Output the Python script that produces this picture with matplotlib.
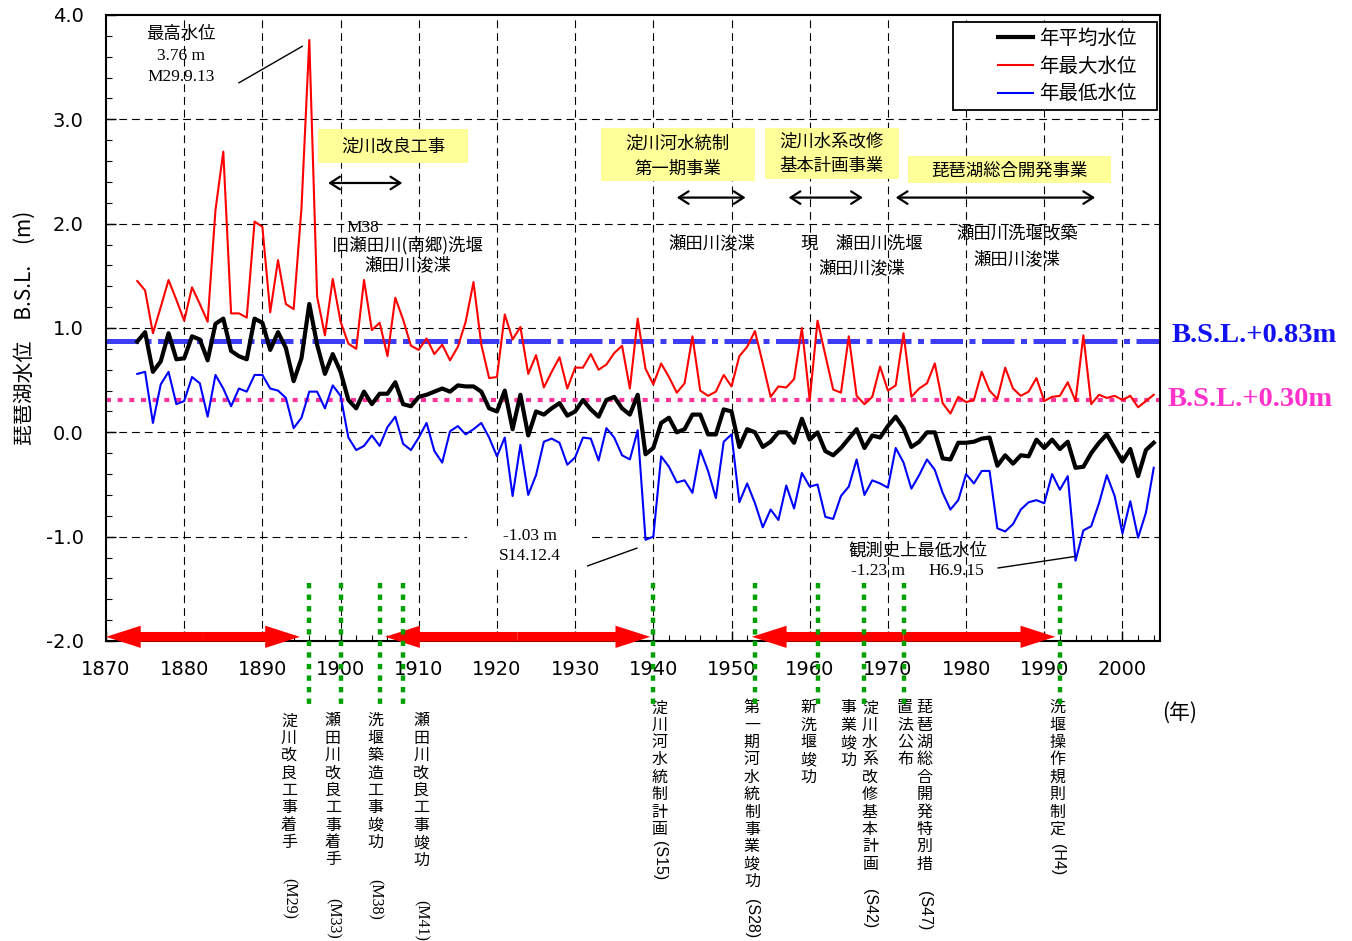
import matplotlib
matplotlib.use("Agg")
import matplotlib.pyplot as plt
import matplotlib.transforms as mtransforms
from matplotlib.patches import Rectangle
from matplotlib.ticker import MultipleLocator, FuncFormatter
import numpy as np

JP = ["Noto Sans CJK JP", "DejaVu Sans"]
SERIF = ["Liberation Serif", "DejaVu Serif"]
W, H = 1352, 941

# --- data -------------------------------------------------------------
years = np.arange(1874, 2005)

mean_level = [
    0.87, 0.96, 0.58, 0.68, 0.95, 0.70,                                # 1874-1879
    0.71, 0.92, 0.89, 0.69, 1.04, 1.09, 0.78, 0.73, 0.70, 1.09,        # 1880s
    1.05, 0.79, 0.96, 0.81, 0.49, 0.71, 1.23, 0.84, 0.56, 0.75,        # 1890s
    0.58, 0.31, 0.23, 0.39, 0.27, 0.37, 0.37, 0.48, 0.27, 0.25,        # 1900s
    0.34, 0.36, 0.39, 0.42, 0.39, 0.45, 0.44, 0.44, 0.39, 0.23,        # 1910s
    0.20, 0.40, 0.03, 0.36, -0.03, 0.20, 0.17, 0.23, 0.28, 0.16,       # 1920s
    0.20, 0.31, 0.22, 0.15, 0.31, 0.34, 0.23, 0.17, 0.36, -0.21,       # 1930s
    -0.15, 0.09, 0.14, 0.00, 0.03, 0.17, 0.17, -0.02, -0.02, 0.22,     # 1940s
    0.20, -0.14, 0.03, 0.00, -0.14, -0.09, 0.00, 0.00, -0.10, 0.13,    # 1950s
    -0.07, 0.00, -0.18, -0.22, -0.15, -0.06, 0.03, -0.15, -0.03, -0.05,  # 1960s
    0.06, 0.15, 0.04, -0.14, -0.09, 0.00, 0.00, -0.25, -0.26, -0.10,   # 1970s
    -0.10, -0.09, -0.06, -0.05, -0.32, -0.22, -0.30, -0.22, -0.23, -0.07,  # 1980s
    -0.15, -0.07, -0.16, -0.09, -0.34, -0.33, -0.20, -0.10, -0.02, -0.15,  # 1990s
    -0.28, -0.16, -0.42, -0.17, -0.10,                                 # 2000-2004
]

max_level = [
    1.45, 1.36, 0.95, 1.20, 1.46, 1.27,
    1.07, 1.39, 1.23, 1.06, 2.13, 2.69, 1.14, 1.14, 1.10, 2.02,
    1.97, 1.15, 1.65, 1.23, 1.18, 2.15, 3.76, 1.30, 0.93, 1.47,
    1.06, 0.85, 0.80, 1.46, 0.98, 1.05, 0.73, 1.29, 1.08, 0.83,
    0.79, 0.90, 0.75, 0.84, 0.69, 0.82, 1.06, 1.44, 0.84, 0.52,
    0.53, 1.13, 0.89, 1.01, 0.56, 0.74, 0.43, 0.58, 0.72, 0.42,
    0.62, 0.62, 0.75, 0.60, 0.65, 0.76, 0.83, 0.42, 1.09, 0.61,
    0.46, 0.66, 0.53, 0.38, 0.47, 0.92, 0.40, 0.35, 0.39, 0.55,
    0.44, 0.73, 0.82, 0.97, 0.66, 0.34, 0.44, 0.43, 0.51, 1.00,
    0.31, 1.07, 0.74, 0.41, 0.38, 0.92, 0.35, 0.27, 0.34, 0.63,
    0.40, 0.45, 0.95, 0.34, 0.42, 0.47, 0.66, 0.28, 0.18, 0.34,
    0.29, 0.31, 0.58, 0.40, 0.32, 0.62, 0.42, 0.35, 0.39, 0.52,
    0.30, 0.34, 0.35, 0.48, 0.30, 0.93, 0.27, 0.36, 0.33, 0.35,
    0.31, 0.35, 0.24, 0.30, 0.36,
]

min_level = [
    0.56, 0.58, 0.09, 0.46, 0.58, 0.27,
    0.30, 0.53, 0.47, 0.15, 0.55, 0.42, 0.25, 0.42, 0.39, 0.55,
    0.55, 0.42, 0.40, 0.33, 0.04, 0.14, 0.39, 0.39, 0.23, 0.45,
    0.35, -0.05, -0.17, -0.13, -0.03, -0.13, 0.05, 0.15, -0.11, -0.17,
    -0.05, 0.09, -0.18, -0.29, 0.01, 0.06, -0.02, 0.03, 0.09, -0.05,
    -0.23, -0.05, -0.61, -0.12, -0.60, -0.41, -0.09, -0.06, -0.10, -0.31,
    -0.24, -0.05, -0.06, -0.27, 0.04, -0.05, -0.22, -0.26, 0.02, -1.03,
    -1.00, -0.23, -0.33, -0.48, -0.46, -0.58, -0.17, -0.37, -0.63, -0.09,
    -0.02, -0.67, -0.49, -0.68, -0.91, -0.74, -0.84, -0.51, -0.73, -0.39,
    -0.52, -0.50, -0.81, -0.83, -0.61, -0.52, -0.26, -0.60, -0.46, -0.49,
    -0.53, -0.15, -0.29, -0.54, -0.41, -0.26, -0.36, -0.58, -0.74, -0.65,
    -0.40, -0.49, -0.37, -0.37, -0.92, -0.95, -0.88, -0.74, -0.67, -0.65,
    -0.68, -0.40, -0.55, -0.42, -1.23, -0.94, -0.90, -0.68, -0.41, -0.61,
    -0.97, -0.66, -1.01, -0.77, -0.34,
]

series_labels = ["年平均水位", "年最大水位", "年最低水位"]

ref_levels = [0.88, 0.31]
ref_labels = ["B.S.L.+0.83m", "B.S.L.+0.30m"]

# project periods shown as red double arrows at the bottom
periods = [(1870.0, 1894.8), (1905.7, 1939.6), (1952.6, 1991.4)]
# events marked with green dotted lines
event_years = [1896, 1900, 1905, 1908, 1940, 1953, 1961, 1967, 1972, 1992]

# vertical captions below the axis: (x year, top px, text, era tag, tag centre px)
captions = [
    (1893.4, 712, "淀川改良工事着手", "(M29)", 899),
    (1899.0, 712, "瀬田川改良工事着手", "(M33)", 918),
    (1904.4, 712, "洗堰築造工事竣功", "(M38)", 899),
    (1910.3, 712, "瀬田川改良工事竣功", "(M41)", 920),
    (1940.8, 699, "淀川河水統制計画", "(S15)", 861),
    (1952.6, 699, "第一期河水統制事業竣功", "(S28)", 919),
    (1959.8, 699, "新洗堰竣功", None, None),
    (1964.9, 699, "事業竣功", None, None),
    (1967.7, 699, "淀川水系改修基本計画", "(S42)", 909),
    (1972.2, 699, "置法公布", None, None),
    (1974.7, 699, "琵琶湖総合開発特別措", "(S47)", 911),
    (1991.7, 699, "洗堰操作規則制定", "(H4)", 860),
]

assert len(mean_level) == len(max_level) == len(min_level) == len(years)

# --- figure -----------------------------------------------------------
plt.rcParams["font.family"] = ["DejaVu Sans"]
fig = plt.figure(figsize=(W / 100, H / 100), dpi=100)
ax = fig.add_axes([106 / W, 1 - 641 / H, 1054 / W, 626 / H])
ax.set_xlim(1870, 2004.8)
ax.set_ylim(-2.0, 4.0)

grid_kw = dict(color="black", lw=0.8, linestyle=(0, (7, 4.5)), zorder=1)
for gx in range(1880, 2001, 10):
    ax.axvline(gx, **grid_kw)
for gy in [-1.0, 0.0, 1.0, 2.0, 3.0]:
    ax.axhline(gy, **grid_kw)

# reference levels
ax.axhline(ref_levels[0], color="#3D3DF5", lw=3.6, linestyle=(0, (6.5, 1.3, 1.2, 1.3)), zorder=2)
ax.axhline(ref_levels[1], color="#FF3399", lw=3.0, linestyle=(0, (1.2, 1.6)), zorder=2)
ax.text(2006.3, ref_levels[0] + 0.05, ref_labels[0], color="#1010F0", fontsize=20.5,
        fontweight="bold", family=SERIF, ha="left", va="center", clip_on=False)
ax.text(2005.8, ref_levels[1], ref_labels[1], color="#FF33CC", fontsize=20.5,
        fontweight="bold", family=SERIF, ha="left", va="center", clip_on=False)

# white patch behind the -1.03 m note
ax.add_patch(Rectangle((1916.2, -1.30), 15.3, 0.40, facecolor="white", edgecolor="none", zorder=3))

l_max, = ax.plot(years, max_level, color="red", lw=1.5, zorder=5)
l_min, = ax.plot(years, min_level, color="blue", lw=1.5, zorder=5)
l_mean, = ax.plot(years, mean_level, color="black", lw=3.0, zorder=6)

# legend: drawn frameless, box added separately so it can be wider than its content
ax.add_patch(Rectangle((0.8036, 0.848), 0.1934, 0.141, transform=ax.transAxes,
                       facecolor="white", edgecolor="black", lw=1.3, zorder=9))
leg = ax.legend([l_mean, l_max, l_min], series_labels, loc="center right",
                bbox_to_anchor=(0.978, 0.9185), prop={"family": JP, "size": 14},
                frameon=False, handlelength=1.8, handletextpad=0.35,
                labelspacing=0.35, borderpad=0.0, borderaxespad=0)
leg.set_zorder(10)

# --- annotations inside the axes -------------------------------------
txt = dict(ha="center", va="center", zorder=7)
ax.text(1879.6, 3.82, "最高水位", family=JP, fontsize=12.5, **txt)
ax.text(1879.6, 3.61, "3.76 m", family=SERIF, fontsize=12.5, **txt)
ax.text(1879.6, 3.41, "M29.9.13", family=SERIF, fontsize=12.5, **txt)
ax.plot([1887.0, 1895.1], [3.35, 3.70], color="black", lw=1.0, zorder=7)

boxes = [
    ((1897.1, 2.58), 19.2, 0.33),
    ((1933.3, 2.41), 19.7, 0.51),
    ((1954.3, 2.43), 17.1, 0.49),
    ((1972.6, 2.39), 25.9, 0.26),
]
for (bx, by), bw, bh in boxes:
    ax.add_patch(Rectangle((bx, by), bw, bh, facecolor="#FFFF99", edgecolor="none", zorder=4))

ax.text(1906.7, 2.74, "淀川改良工事", family=JP, fontsize=12.5, **txt)
ax.text(1943.1, 2.77, "淀川河水統制", family=JP, fontsize=12.5, **txt)
ax.text(1943.1, 2.53, "第一期事業", family=JP, fontsize=12.5, **txt)
ax.text(1962.8, 2.79, "淀川水系改修", family=JP, fontsize=12.5, **txt)
ax.text(1962.8, 2.55, "基本計画事業", family=JP, fontsize=12.5, **txt)
ax.text(1985.5, 2.51, "琵琶湖総合開発事業", family=JP, fontsize=12.5, **txt)

for x0, x1, y in [(1898.4, 1907.9, 2.39), (1943.0, 1951.8, 2.25),
                  (1957.3, 1966.8, 2.25), (1971.0, 1996.5, 2.25)]:
    ax.annotate("", xy=(x1, y), xytext=(x0, y), zorder=7,
                arrowprops=dict(arrowstyle="<->,head_length=0.7,head_width=0.45",
                                lw=1.6, color="black", shrinkA=0, shrinkB=0))

ax.text(1902.9, 1.96, "M38", family=SERIF, fontsize=12.5, **txt)
ax.text(1908.6, 1.79, "旧瀬田川(南郷)洗堰", family=JP, fontsize=12.5, **txt)
ax.text(1908.6, 1.60, "瀬田川浚渫", family=JP, fontsize=12.5, **txt)
ax.text(1947.5, 1.81, "瀬田川浚渫", family=JP, fontsize=12.5, **txt)
ax.text(1966.7, 1.81, "現　瀬田川洗堰", family=JP, fontsize=12.5, **txt)
ax.text(1966.7, 1.57, "瀬田川浚渫", family=JP, fontsize=12.5, **txt)
ax.text(1986.5, 1.91, "瀬田川洗堰改築", family=JP, fontsize=12.5, **txt)
ax.text(1986.5, 1.66, "瀬田川浚渫", family=JP, fontsize=12.5, **txt)

ax.text(1924.2, -0.99, "-1.03 m", family=SERIF, fontsize=12.5, **txt)
ax.text(1924.2, -1.19, "S14.12.4", family=SERIF, fontsize=12.5, **txt)
ax.plot([1931.6, 1937.9], [-1.28, -1.11], color="black", lw=1.0, zorder=7)

ax.text(1973.8, -1.13, "観測史上最低水位", family=JP, fontsize=12.5, **txt)
ax.text(1968.7, -1.33, "-1.23 m", family=SERIF, fontsize=12.5, **txt)
ax.text(1978.8, -1.33, "H6.9.15", family=SERIF, fontsize=12.5, **txt)
ax.plot([1984.1, 1993.9], [-1.30, -1.19], color="black", lw=1.0, zorder=7)

# --- project periods and events --------------------------------------
arrow_y = -1.96
for x0, x1 in periods:
    mid = (x0 + x1) / 2
    for end in (x0, x1):
        ann = ax.annotate("", xy=(end, arrow_y), xytext=(mid, arrow_y), zorder=6,
                          annotation_clip=False,
                          arrowprops=dict(arrowstyle="simple,head_length=2.5,head_width=1.6,tail_width=0.7",
                                          color="red", lw=0, shrinkA=0, shrinkB=0,
                                          mutation_scale=10))
        ann.arrow_patch.set_clip_on(False)

for ex in event_years:
    ax.plot([ex, ex], [-1.44, -2.6], color="#00A000", lw=3.2,
            linestyle=(0, (1.2, 1.4)), zorder=8, clip_on=False)

# vertical captions (one character per row, era tag rotated)
trans = mtransforms.blended_transform_factory(ax.transData, fig.transFigure)
pitch = 17.4
for cx, top, text, tag, tag_y in captions:
    for i, ch in enumerate(text):
        fig_y = 1 - (top + pitch * (i + 0.5)) / H
        ax.text(cx, fig_y, ch, transform=trans, family=JP, fontsize=11.5,
                ha="center", va="center", clip_on=False)
    if tag:
        ax.text(cx, 1 - tag_y / H, tag, transform=trans, fontsize=11.5,
                family=SERIF if tag.startswith("(M") else ["Liberation Sans", "DejaVu Sans"],
                rotation=-90, ha="center", va="center", clip_on=False)

# --- axes styling -----------------------------------------------------
ax.xaxis.set_major_locator(MultipleLocator(10))
ax.xaxis.set_minor_locator(MultipleLocator(2))
ax.yaxis.set_major_locator(MultipleLocator(1.0))
ax.yaxis.set_minor_locator(MultipleLocator(0.2))
ax.yaxis.set_major_formatter(FuncFormatter(lambda v, _: f"{v:.1f}"))
ax.tick_params(which="both", direction="in", labelsize=14)
ax.tick_params(which="major", length=7, width=1.0)
ax.tick_params(which="minor", length=4, width=0.8)
ax.tick_params(axis="x", pad=14)
ax.tick_params(axis="y", pad=16)
for sp in ax.spines.values():
    sp.set_linewidth(1.5)

fig.text(25 / W, 1 - 328 / H, "琵琶湖水位　B.S.L.　(m)", rotation=90, ha="center",
         va="center", fontsize=15, family=JP)
fig.text(1180 / W, 1 - 713 / H, "(年)", ha="center", va="center", fontsize=15, family=JP)

fig.savefig("out.png", dpi=100)
